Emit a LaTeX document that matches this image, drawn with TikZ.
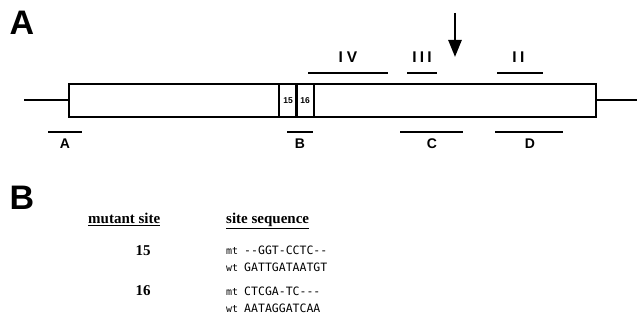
\documentclass[tikz,border=0pt]{standalone}
\usepackage{fontspec}
\setmainfont{Liberation Serif}
\newfontfamily\sansfam{Liberation Sans}
\newfontfamily\monofam{DejaVu Sans Mono}
\usetikzlibrary{arrows.meta}
% strand tag (mt/wt) followed by the aligned bases
\newcommand\strandrow[2]{\monofam\fontsize{10}{10}\selectfont #1\hspace{6pt}\fontsize{11.5}{11.5}\selectfont #2}
\begin{document}
\begin{tikzpicture}[x=1pt,y=-1pt,
  panel/.style={font=\sansfam\bfseries\fontsize{34}{34}\selectfont,inner sep=0pt},
  roman/.style={font=\sansfam\bfseries\fontsize{15.5}{16}\selectfont,inner sep=0pt},
  probe/.style={font=\sansfam\bfseries\fontsize{14}{14}\selectfont,inner sep=0pt},
  site/.style={draw,line width=1.3pt,minimum width=18pt,minimum height=33pt,inner sep=0pt,
    font=\sansfam\bfseries\fontsize{8.5}{9}\selectfont},
  bar/.style={line width=1.8pt},
  head/.style={font=\bfseries\fontsize{15}{15}\selectfont,inner sep=0pt,anchor=base west},
  num/.style={font=\bfseries\fontsize{15}{15}\selectfont,inner sep=0pt,anchor=base},
  seqrow/.style={inner sep=0pt,anchor=base west}]
\useasboundingbox (0,0) rectangle (637,328);

% ---- panel A: gene map ----
\node[panel] (labA) at (22,23) {A};

\node[draw,line width=2.2pt,minimum width=527pt,minimum height=33pt,inner sep=0pt]
  (gene) at (332.5,100.5) {};
\coordinate (lend) at (24,100.5);
\coordinate (rend) at (637,100.5);
\draw[line width=2pt] (lend) -- (gene.west);
\draw[line width=2pt] (gene.east) -- (rend);

\node[site] (s15) at (288,100.5) {15};
\node[site] (s16) at (305,100.5) {16};

% domains above the map
\draw[bar] (308,73) -- (388,73);
\draw[bar] (407,73) -- (437,73);
\draw[bar] (497,73) -- (543,73);
\node[roman] (dIV)  at (348,57.5) {I\kern4pt V};
\node[roman] (dIII) at (422,57.5) {I\kern3.2pt I\kern3.2pt I};
\node[roman] (dII)  at (518.5,57.5) {I\kern3.5pt I};

% marked position
\coordinate (arrtop) at (455,13);
\coordinate (arrtip) at (455,57);
\draw[line width=2.6pt,-{Triangle[length=17pt,width=13pt]}] (arrtop) -- (arrtip);

% probes below the map
\draw[bar] (48,132) -- (82,132);
\draw[bar] (287,132) -- (313,132);
\draw[bar] (400,132) -- (463,132);
\draw[bar] (495,132) -- (563,132);
\node[probe] (pA) at (65,143.5) {A};
\node[probe] (pB) at (300,143.5) {B};
\node[probe] (pC) at (432,143.5) {C};
\node[probe] (pD) at (530,143.5) {D};

% ---- panel B: site sequences ----
\node[panel] (labB) at (22,197.5) {B};

\node[head] (hmut) at (88,224) {\underline{mutant site}};
\node[head] (hseq) at (226,224) {\underline{site sequence}};

\node[num] (n15) at (143,256) {15};
\node[num] (n16) at (143,296) {16};

\node[seqrow] (mt15) at (226,255) {\strandrow{mt}{-{}-GGT-CCTC-{}-}};
\node[seqrow] (wt15) at (226,272) {\strandrow{wt}{GATTGATAATGT}};
\node[seqrow] (mt16) at (226,296) {\strandrow{mt}{CTCGA-TC-{}-{}-}};
\node[seqrow] (wt16) at (226,313) {\strandrow{wt}{AATAGGATCAA}};
\end{tikzpicture}
\end{document}
